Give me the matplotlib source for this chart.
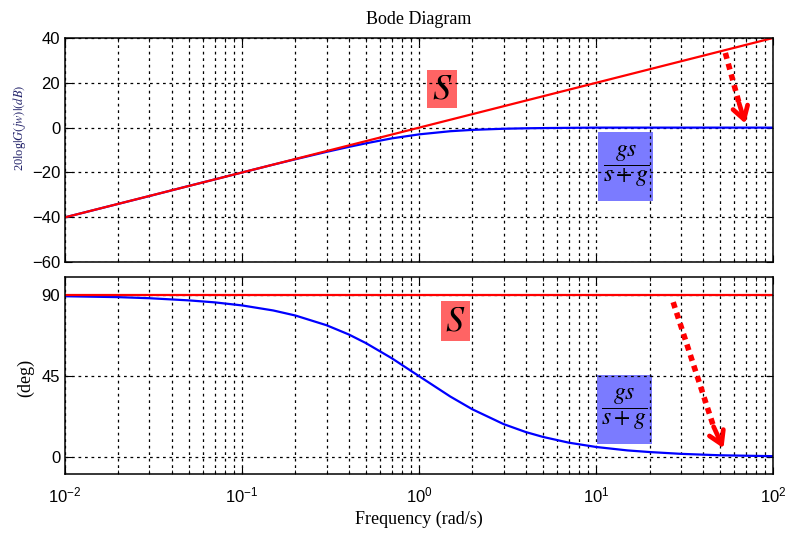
import matplotlib
matplotlib.use("Agg")
import matplotlib.pyplot as plt
from matplotlib.patches import Rectangle

plt.rcParams["font.family"] = ["Liberation Sans", "DejaVu Sans"]
plt.rcParams["mathtext.fontset"] = "custom"
plt.rcParams["mathtext.rm"] = "Liberation Sans"
plt.rcParams["mathtext.it"] = "Liberation Sans:italic"

# frequencies (rad/s)
freq = [0.01, 0.02, 0.03, 0.05, 0.07, 0.1, 0.15, 0.2, 0.3, 0.4, 0.5, 0.7,
        1, 1.5, 2, 3, 4, 5, 7, 10, 15, 20, 30, 50, 100]

# gs/(s+g) magnitude (dB) and phase (deg)
mag_blue = [-40, -34, -30.5, -26, -23.1, -20, -16.5, -14.1, -10.8, -8.6, -7,
            -4.8, -3, -1.6, -1, -0.5, -0.3, -0.2, -0.1, 0, 0, 0, 0, 0, 0]
phase_blue = [89.4, 88.9, 88.3, 87.1, 86, 84.3, 81.5, 78.7, 73.3, 68.2, 63.4,
              55, 45, 33.7, 26.6, 18.4, 14, 11.3, 8.1, 5.7, 3.8, 2.9, 1.9,
              1.1, 0.6]

# s : straight line in dB, constant phase
freq_red = [0.01, 100]
mag_red = [-40, 40]
phase_red = [90, 90]

mag_ticks = [-60, -40, -20, 0, 20, 40]
phase_ticks = [0, 45, 90]

serif = "Liberation Serif"
grid_ls = (0, (2.2, 3))


def style_axes(ax):
    ax.set_xscale("log")
    ax.set_xlim(0.01, 100)
    ax.grid(True, which="both", axis="x", color="black", linestyle=grid_ls, linewidth=0.9)
    ax.grid(True, which="major", axis="y", color="black", linestyle=grid_ls, linewidth=0.9)
    ax.tick_params(which="both", direction="in", top=True, right=True, labelsize=12)
    ax.tick_params(which="major", length=5)
    ax.tick_params(which="minor", length=3)
    for sp in ax.spines.values():
        sp.set_linewidth(1.1)


def add_box(ax, x, y, w, h, color, text, size):
    ax.add_patch(Rectangle((x, y), w, h, transform=ax.transAxes,
                           facecolor=color, edgecolor="none", zorder=1))
    ax.text(x + w / 2, y + h / 2, text, transform=ax.transAxes, ha="center",
            va="center", fontsize=size, math_fontfamily="stix", zorder=3)


def add_arrow(ax, start, end, head_start):
    # dotted shaft, solid chevron head
    ax.plot([start[0], head_start[0]], [start[1], head_start[1]], color="red",
            lw=4, linestyle=(0, (1.1, 0.9)), solid_capstyle="butt",
            dash_capstyle="butt", zorder=4)
    ax.annotate("", xy=end, xytext=head_start,
                arrowprops=dict(arrowstyle="->,head_length=0.9,head_width=0.55",
                                color="red", lw=3.4, shrinkA=0, shrinkB=0),
                zorder=4)


fig = plt.figure(figsize=(7.87, 5.34), dpi=100)
ax1 = fig.add_axes([0.0826, 0.509, 0.900, 0.420])
ax2 = fig.add_axes([0.0826, 0.112, 0.900, 0.369])

# magnitude
style_axes(ax1)
ax1.plot(freq, mag_blue, color="blue", lw=1.6, zorder=2)
ax1.plot(freq_red, mag_red, color="red", lw=1.6, zorder=2.1)
ax1.set_ylim(-60, 40)
ax1.set_yticks(mag_ticks)
ax1.tick_params(labelbottom=False)
ax1.set_ylabel(r"20log$|G(jw)|(dB)$", fontfamily=serif, math_fontfamily="stix",
               fontsize=9, color="#23236a")
ax1.yaxis.set_label_coords(-0.052, 0.598)
ax1.set_title("Bode Diagram", fontfamily=serif, fontsize=13, pad=10)
add_box(ax1, 0.511, 0.6875, 0.0424, 0.170, "#ff6464", r"$S$", 26)
add_box(ax1, 0.753, 0.272, 0.0777, 0.308, "#7b7bff", r"$\dfrac{gs}{s+g}$", 17)
add_arrow(ax1, (53.6, 33.3), (69.5, 1.8), (64.0, 11.0))

# phase
style_axes(ax2)
ax2.plot(freq, phase_blue, color="blue", lw=1.6, zorder=2)
ax2.plot(freq_red, phase_red, color="red", lw=1.6, zorder=2.1)
ax2.set_ylim(-9.4, 100)
ax2.set_yticks(phase_ticks)
ax2.tick_params(axis="x", pad=8)
ax2.set_ylabel("(deg)", fontfamily=serif, fontsize=13)
ax2.yaxis.set_label_coords(-0.043, 0.49)
ax2.set_xlabel("Frequency (rad/s)", fontfamily=serif, fontsize=13, labelpad=4)
add_box(ax2, 0.531, 0.675, 0.041, 0.203, "#ff6464", r"$S$", 26)
add_box(ax2, 0.751, 0.152, 0.0777, 0.350, "#7b7bff", r"$\dfrac{gs}{s+g}$", 17)
add_arrow(ax2, (27.2, 86.1), (52.3, 5.0), (46.0, 17.0))

fig.savefig("out.png", dpi=100)
